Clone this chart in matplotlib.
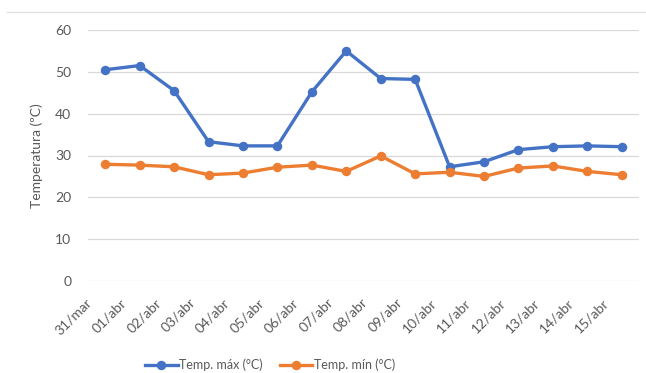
import matplotlib
matplotlib.use("Agg")
import matplotlib.pyplot as plt
import matplotlib.transforms as mtransforms
from matplotlib.lines import Line2D

plt.rcParams['font.family'] = ['Lato', 'DejaVu Sans']

dates = ["31/mar", "01/abr", "02/abr", "03/abr", "04/abr", "05/abr", "06/abr", "07/abr",
         "08/abr", "09/abr", "10/abr", "11/abr", "12/abr", "13/abr", "14/abr", "15/abr"]
temp_max = [50.5, 51.5, 45.5, 33.3, 32.3, 32.3, 45.2, 55.0,
            48.4, 48.2, 27.3, 28.5, 31.4, 32.1, 32.3, 32.1]
temp_min = [27.9, 27.7, 27.3, 25.4, 25.8, 27.2, 27.7, 26.2,
            29.9, 25.6, 26.0, 25.0, 27.0, 27.5, 26.2, 25.4]
yticks = [0, 10, 20, 30, 40, 50, 60]

BLUE = "#4472C4"
ORANGE = "#ED7D31"
GRID = "#D9D9D9"
TEXT = "#595959"

W, H = 646, 373
fig = plt.figure(figsize=(W / 100, H / 100), dpi=100)
ax = fig.add_axes([88 / W, (H - 281) / H, (639 - 88) / W, (281 - 30) / H])

x = list(range(len(dates)))
l1, = ax.plot(x, temp_max, color=BLUE, lw=2.4, marker='o', ms=5.8, label="Temp. máx (°C)")
l2, = ax.plot(x, temp_min, color=ORANGE, lw=2.4, marker='o', ms=5.8, label="Temp. mín (°C)")

ax.set_xlim(-0.5, len(dates) - 0.5)
ax.set_ylim(0, 60)
ax.set_yticks(yticks)
ax.yaxis.grid(True, color=GRID, lw=0.9)
ax.set_axisbelow(True)
for s in ax.spines.values():
    s.set_visible(False)
ax.tick_params(axis='both', length=0, colors=TEXT, labelsize=10)
ax.tick_params(axis='y', pad=12)
ax.tick_params(axis='x', pad=11)

ax.set_xticks(x)
ax.set_xticklabels(dates, rotation=45, ha='right', va='top')
shift = mtransforms.ScaledTranslation(-11 / 100, 0, fig.dpi_scale_trans)
for lab in ax.get_xticklabels():
    lab.set_transform(lab.get_transform() + shift)

ax.set_ylabel("Temperatura (ºC)", color=TEXT, fontsize=10, labelpad=9)

fig.legend(handles=[l1, l2], loc='center', bbox_to_anchor=(270 / W, 1 - 365 / H),
           ncol=2, frameon=False, fontsize=9, labelcolor=TEXT,
           handlelength=2.6, handletextpad=0.1, columnspacing=1.4)

# faint frame line across the top
fig.add_artist(Line2D([7 / W, 1.0], [1 - 12 / H, 1 - 12 / H], color="#E3E3E3", lw=1,
                      transform=fig.transFigure))

fig.savefig("out.png", dpi=100)
